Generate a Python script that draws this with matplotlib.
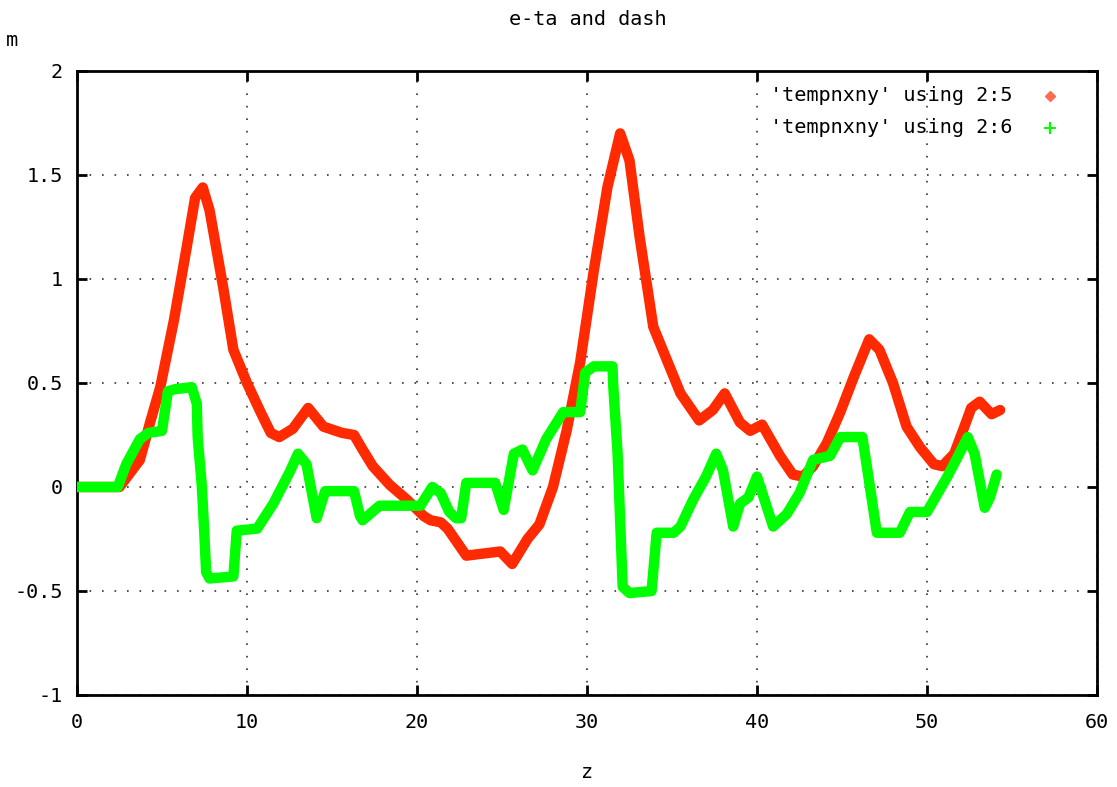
import numpy as np
import matplotlib
matplotlib.use("Agg")
import matplotlib.pyplot as plt

plt.rcParams["font.family"] = ["DejaVu Sans Mono", "DejaVu Sans"]

TITULO = "e-ta and dash"
ROTULO_1 = "'tempnxny' using 2:5"
ROTULO_2 = "'tempnxny' using 2:6"

# coluna 2 vs coluna 5 (vermelho)
z_col5 = [0, 2.5, 3.7, 4.3, 4.9, 5.7, 6.45, 6.95, 7.4, 7.8,
          8.6, 9.2, 10.0, 10.8, 11.4, 11.9, 12.7, 13.6, 14.5, 15.6,
          16.3, 16.8, 17.4, 18.4, 19.4, 20.4, 20.8, 21.4, 21.8, 22.9,
          24.9, 25.6, 26.5, 27.2, 28.0, 28.8, 29.6, 30.4, 31.2, 31.95,
          32.5, 33.1, 33.9, 34.7, 35.5, 36.6, 37.4, 38.1, 39.0, 39.6,
          40.3, 41.35, 42.1, 42.7, 43.3, 44.1, 44.9, 45.7, 46.6, 47.2,
          48.0, 48.8, 49.6, 50.4, 50.9, 51.6, 52.2, 52.6, 53.1, 53.8,
          54.3]
col5 = [0, 0, 0.13, 0.31, 0.48, 0.80, 1.15, 1.39, 1.44, 1.33,
        0.96, 0.66, 0.50, 0.36, 0.26, 0.24, 0.28, 0.38, 0.29, 0.26,
        0.25, 0.18, 0.10, 0.01, -0.06, -0.14, -0.16, -0.17, -0.20, -0.33,
        -0.31, -0.37, -0.25, -0.18, 0.0, 0.27, 0.60, 1.04, 1.44, 1.70,
        1.57, 1.2, 0.77, 0.61, 0.45, 0.32, 0.37, 0.45, 0.31, 0.27,
        0.30, 0.15, 0.06, 0.05, 0.10, 0.21, 0.36, 0.53, 0.71, 0.66,
        0.50, 0.29, 0.19, 0.11, 0.10, 0.16, 0.29, 0.38, 0.41, 0.35,
        0.37]

# coluna 2 vs coluna 6 (verde)
z_col6 = [0, 2.4, 2.9, 3.7, 4.2, 5.0, 5.35, 5.75, 6.75, 7.05,
          7.1, 7.35, 7.5, 7.6, 7.8, 9.2, 9.4, 10.6, 11.55, 12.5,
          13.0, 13.5, 14.1, 14.6, 16.3, 16.65, 16.8, 17.8, 20.2, 20.9,
          21.4, 21.9, 22.3, 22.6, 22.9, 24.6, 25.1, 25.7, 26.2, 26.8,
          27.6, 28.6, 29.6, 29.9, 30.4, 31.5, 31.55, 31.8, 31.95, 32.1,
          32.5, 33.8, 34.1, 35.1, 35.5, 36.25, 37.0, 37.6, 38.0, 38.6,
          39.0, 39.5, 40.0, 40.95, 41.75, 42.5, 43.3, 44.3, 44.9, 46.2,
          47.05, 48.4, 49.0, 50.0, 51.2, 51.9, 52.4, 52.8, 53.4, 53.7,
          54.1]
col6 = [0, 0, 0.11, 0.23, 0.26, 0.27, 0.46, 0.47, 0.48, 0.40,
        0.24, 0.0, -0.24, -0.41, -0.44, -0.43, -0.21, -0.20, -0.08, 0.07,
        0.16, 0.11, -0.15, -0.02, -0.02, -0.14, -0.16, -0.09, -0.09, 0.0,
        -0.03, -0.12, -0.15, -0.15, 0.02, 0.02, -0.11, 0.16, 0.18, 0.08,
        0.23, 0.36, 0.36, 0.55, 0.58, 0.58, 0.48, 0.16, -0.16, -0.48,
        -0.51, -0.50, -0.22, -0.22, -0.19, -0.06, 0.05, 0.16, 0.08, -0.19,
        -0.08, -0.05, 0.05, -0.19, -0.13, -0.03, 0.13, 0.15, 0.24, 0.24,
        -0.22, -0.22, -0.12, -0.12, 0.05, 0.16, 0.24, 0.16, -0.10, -0.05,
        0.06]

x_ticks = [0, 10, 20, 30, 40, 50, 60]
y_ticks = [-1, -0.5, 0, 0.5, 1, 1.5, 2]
y_tick_labels = ["-1", "-0.5", "0", "0.5", "1", "1.5", "2"]

COR_VERMELHO = "#ff2a00"
COR_VERDE = "#00ff00"
TAM_FONTE = 14.5

fig = plt.figure(figsize=(11.17, 7.87), dpi=100)
ax = fig.add_axes([0.0689, 0.1169, 0.9132, 0.7929])

ax.plot(z_col5, col5, color=COR_VERMELHO, linewidth=7.5,
        solid_joinstyle="round", solid_capstyle="round", zorder=3)
ax.plot(z_col6, col6, color=COR_VERDE, linewidth=7.5,
        solid_joinstyle="round", solid_capstyle="round", zorder=4)

ax.set_xlim(0, 60)
ax.set_ylim(-1, 2)
ax.set_xticks(x_ticks)
ax.set_xticklabels([str(t) for t in x_ticks])
ax.set_yticks(y_ticks)
ax.set_yticklabels(y_tick_labels)

ax.tick_params(direction="in", length=7, width=2, top=True, right=True,
               labelsize=TAM_FONTE)
ax.tick_params(axis="x", pad=13)
ax.tick_params(axis="y", pad=10)
for s in ax.spines.values():
    s.set_linewidth(2)

ax.grid(True, color="black", linewidth=1.2, linestyle=(0, (1, 6.5)), alpha=0.8)
ax.set_axisbelow(True)

# legenda no estilo gnuplot (texto à esquerda, símbolo à direita)
ax.text(0.917, 0.960, ROTULO_1, transform=ax.transAxes, ha="right",
        va="center", fontsize=TAM_FONTE)
ax.text(0.917, 0.909, ROTULO_2, transform=ax.transAxes, ha="right",
        va="center", fontsize=TAM_FONTE)
ax.plot([0.954], [0.960], transform=ax.transAxes, marker="D", markersize=5,
        color="#ff6a50", linestyle="none", clip_on=False)
ax.plot([0.954], [0.909], transform=ax.transAxes, marker="+", markersize=8,
        markeredgewidth=1.5, color=COR_VERDE, linestyle="none", clip_on=False)

fig.text(0.526, 0.975, TITULO, ha="center", va="center", fontsize=TAM_FONTE)
fig.text(0.011, 0.949, "m", ha="center", va="center", fontsize=TAM_FONTE)
fig.text(0.526, 0.018, "z", ha="center", va="center", fontsize=TAM_FONTE)

plt.savefig("out.png", dpi=100)
